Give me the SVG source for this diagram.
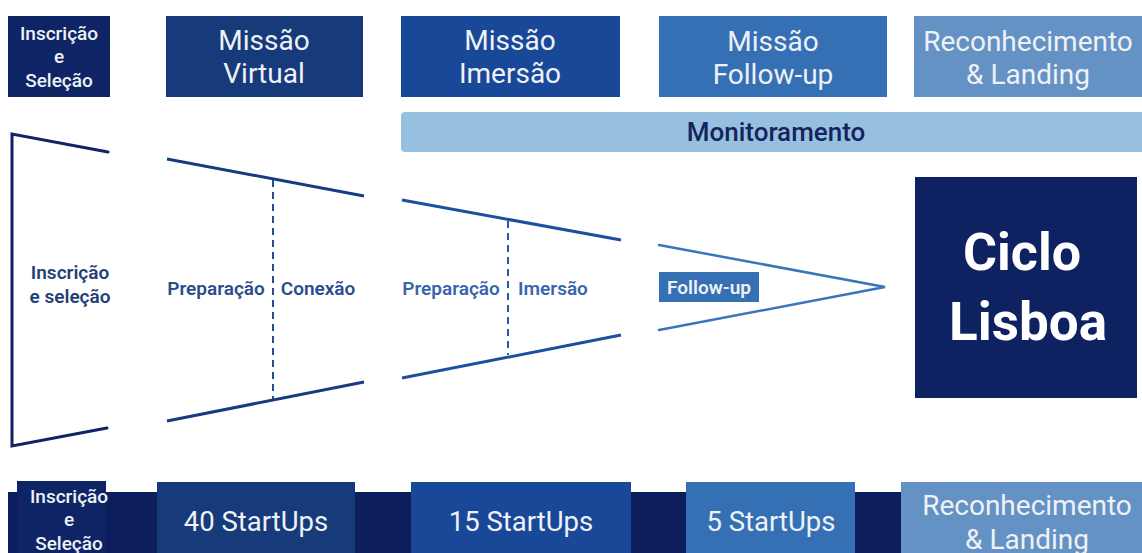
<svg xmlns="http://www.w3.org/2000/svg" width="1142" height="553" viewBox="0 0 1142 553">
<style>
.t{font-family:Roboto,"DejaVu Sans",sans-serif;text-anchor:middle;fill:#eef1f6}
.big{font-size:28px;font-weight:400}
.sm{font-size:19px;font-weight:500}
.lbl{font-family:Roboto,"DejaVu Sans",sans-serif;font-size:19px;font-weight:600;text-anchor:middle}
.num{font-size:27.5px;font-weight:400}
.fn{fill:none;stroke-linecap:round}
</style>
<rect width="1142" height="553" fill="#ffffff"/>
<g id="top-inscricao"><rect x="8" y="16" width="102" height="81" fill="#0f2464"/>
<text class="t sm" x="59" y="40">Inscrição</text><text class="t sm" x="59" y="63">e</text><text class="t sm" x="59" y="87">Seleção</text></g>
<g id="top-virtual"><rect x="166" y="16" width="197" height="81" fill="#163a7a"/>
<text class="t big" x="264" y="50">Missão</text><text class="t big" x="264" y="83">Virtual</text></g>
<g id="top-imersao"><rect x="401" y="16" width="219" height="81" fill="#1a4898"/>
<text class="t big" x="510" y="50">Missão</text><text class="t big" x="510" y="83">Imersão</text></g>
<g id="top-followup"><rect x="659" y="16" width="228" height="81" fill="#3570b5"/>
<text class="t big" x="773" y="51">Missão</text><text class="t big" x="773" y="84">Follow-up</text></g>
<g id="top-reconhecimento"><rect x="914" y="16" width="228" height="81" fill="#6592c4"/>
<text class="t big" x="1028" y="51">Reconhecimento</text><text class="t big" x="1028" y="84">&amp; Landing</text></g>
<g id="monitoramento"><rect x="401" y="112" width="745" height="40" rx="4" fill="#97c0e0"/>
<text class="t" x="776" y="141" style="font-size:26px;font-weight:500;fill:#14245c">Monitoramento</text></g>

<g id="connectors">
<polyline class="fn" points="108,152 12,134 12,446 107,428" stroke="#0f2464" stroke-width="3"/>
<line x1="167" y1="159" x2="364" y2="196" stroke="#173b80" stroke-width="3"/>
<line x1="167" y1="421" x2="364" y2="382" stroke="#173b80" stroke-width="3"/>
<line x1="273" y1="180" x2="273" y2="399" stroke="#264c8f" stroke-width="2" stroke-dasharray="7,5"/>
<line x1="402" y1="200" x2="621" y2="240" stroke="#1d4fa0" stroke-width="3"/>
<line x1="402" y1="378" x2="621" y2="335" stroke="#1d4fa0" stroke-width="3"/>
<line x1="508" y1="221" x2="508" y2="355" stroke="#2a58a4" stroke-width="2" stroke-dasharray="7,5"/>
<polyline class="fn" points="659,245 885,287 659,330" stroke="#3a74bd" stroke-width="2.5"/>
</g>

<g id="stage-inscricao"><text class="lbl" x="70" y="279" fill="#243f78">Inscrição</text><text class="lbl" x="70" y="303" fill="#243f78">e seleção</text></g>
<g id="stage-virtual"><text class="lbl" x="216" y="295" fill="#2b4d8e">Preparação</text><text class="lbl" x="318" y="295" fill="#2b4d8e">Conexão</text></g>
<g id="stage-imersao"><text class="lbl" x="451" y="295" fill="#3866ae">Preparação</text><text class="lbl" x="553" y="295" fill="#3866ae">Imersão</text></g>
<g id="stage-followup"><rect x="659" y="272" width="100" height="30" fill="#3570b5"/><text class="lbl" x="709" y="294" fill="#eef1f6">Follow-up</text></g>
<g id="ciclo-lisboa"><rect x="915" y="177" width="222" height="221" fill="#0e2160"/>
<text class="t" x="1022" y="270" style="font-size:52px;font-weight:700;fill:#ffffff">Ciclo</text>
<text class="t" x="1028" y="340" style="font-size:53px;font-weight:700;fill:#ffffff">Lisboa</text></g>

<g id="bottom">
<rect x="8" y="492" width="1134" height="61" fill="#0c1f5c"/>
<g id="bot-inscricao"><rect x="17" y="481" width="89" height="72" fill="#0f2464"/>
<text class="t sm" x="69" y="503">Inscrição</text><text class="t sm" x="69" y="526">e</text><text class="t sm" x="69" y="550">Seleção</text></g>
<g id="bot-40"><rect x="157" y="482" width="198" height="71" fill="#163a7a"/><text class="t num" x="256" y="531">40 StartUps</text></g>
<g id="bot-15"><rect x="411" y="482" width="220" height="71" fill="#1a4898"/><text class="t num" x="521" y="531">15 StartUps</text></g>
<g id="bot-5"><rect x="686" y="482" width="169" height="71" fill="#3570b5"/><text class="t num" x="771" y="531">5 StartUps</text></g>
<g id="bot-reconhecimento"><rect x="901" y="482" width="241" height="71" fill="#6592c4"/>
<text class="t big" x="1027" y="515">Reconhecimento</text><text class="t big" x="1027" y="549">&amp; Landing</text></g>
</g>
</svg>
